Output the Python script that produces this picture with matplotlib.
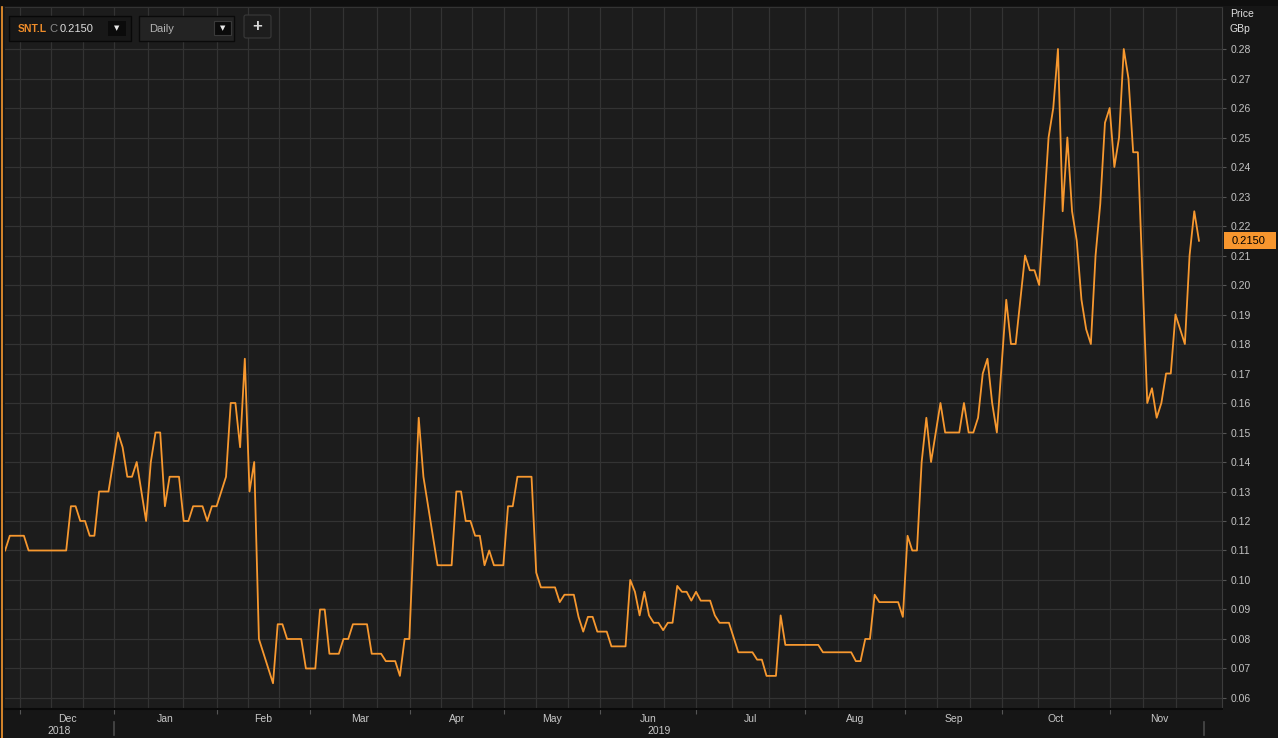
import matplotlib
matplotlib.use("Agg")
import matplotlib.pyplot as plt
from matplotlib.patches import Rectangle, FancyBboxPatch
from matplotlib.transforms import Affine2D, blended_transform_factory

plt.rcParams['font.family'] = ['Liberation Sans', 'DejaVu Sans']

# trading-day index (day 0 = late Nov 2018) and close price in GBp
days = [0, 1, 4, 5, 13, 14, 15, 16, 17, 18, 19, 20, 22, 24, 25, 26, 27, 28, 30, 31,
        32, 33, 34, 35, 37, 38, 39, 40, 42, 43, 44, 45, 47, 48, 49, 50, 51, 52, 53, 54,
        57, 58, 59, 60, 63, 64, 66, 67, 68, 69, 71, 72, 73, 74, 77, 78, 80, 81, 83, 84,
        85, 86, 88, 89, 92, 95, 96, 97, 98, 99, 100, 101, 102, 103, 104, 106, 107, 108, 109, 112,
        113, 114, 117, 118, 119, 121, 122, 123, 124, 125, 126, 128, 129, 132, 133, 134, 135, 136, 137, 138,
        139, 140, 141, 142, 143, 144, 145, 146, 147, 148, 150, 151, 152, 154, 155, 156, 159, 160, 161, 162,
        164, 165, 166, 173, 174, 180, 181, 182, 183, 184, 185, 186, 190, 191, 192, 193, 194, 195, 196, 197,
        198, 199, 200, 203, 204, 205, 206, 207, 208, 209, 210, 211, 213, 214, 215, 217, 218, 219, 220, 222,
        223, 224, 225, 226, 227, 228, 229, 230, 231, 232, 233, 234, 235, 236, 237, 238, 239, 240, 241, 243,
        244, 245, 246, 247, 248, 249, 251, 252, 253, 254]
prices = [0.11, 0.115, 0.115, 0.11, 0.11, 0.125, 0.125, 0.12, 0.12, 0.115, 0.115, 0.13, 0.13, 0.15, 0.145, 0.135, 0.135, 0.14, 0.12, 0.14,
          0.15, 0.15, 0.125, 0.135, 0.135, 0.12, 0.12, 0.125, 0.125, 0.12, 0.125, 0.125, 0.135, 0.16, 0.16, 0.145, 0.175, 0.13, 0.14, 0.08,
          0.065, 0.085, 0.085, 0.08, 0.08, 0.07, 0.07, 0.09, 0.09, 0.075, 0.075, 0.08, 0.08, 0.085, 0.085, 0.075, 0.075, 0.0725, 0.0725, 0.0675,
          0.08, 0.08, 0.155, 0.135, 0.105, 0.105, 0.13, 0.13, 0.12, 0.12, 0.115, 0.115, 0.105, 0.11, 0.105, 0.105, 0.125, 0.125, 0.135, 0.135,
          0.1025, 0.0975, 0.0975, 0.0925, 0.095, 0.095, 0.0875, 0.0825, 0.0875, 0.0875, 0.0825, 0.0825, 0.0775, 0.0775, 0.10, 0.096, 0.088, 0.096, 0.088, 0.0855,
          0.0855, 0.083, 0.0855, 0.0855, 0.098, 0.096, 0.096, 0.093, 0.096, 0.093, 0.093, 0.088, 0.0855, 0.0855, 0.0805, 0.0755, 0.0755, 0.073, 0.073, 0.0675,
          0.0675, 0.088, 0.078, 0.078, 0.0755, 0.0755, 0.0725, 0.0725, 0.08, 0.08, 0.095, 0.0925, 0.0925, 0.0875, 0.115, 0.11, 0.11, 0.14, 0.155, 0.14,
          0.15, 0.16, 0.15, 0.15, 0.16, 0.15, 0.15, 0.155, 0.17, 0.175, 0.16, 0.15, 0.195, 0.18, 0.18, 0.21, 0.205, 0.205, 0.20, 0.25,
          0.26, 0.28, 0.225, 0.25, 0.225, 0.215, 0.195, 0.185, 0.18, 0.21, 0.2275, 0.255, 0.26, 0.24, 0.25, 0.28, 0.27, 0.245, 0.245, 0.16,
          0.165, 0.155, 0.16, 0.17, 0.17, 0.19, 0.18, 0.21, 0.225, 0.215]

months = ['Dec', 'Jan', 'Feb', 'Mar', 'Apr', 'May', 'Jun', 'Jul', 'Aug', 'Sep', 'Oct', 'Nov']
month_starts = [3.2, 23.2, 45.1, 64.9, 86.1, 106.1, 126.6, 147.0, 170.2, 191.5, 212.1, 235.1, 256.1]
years = ['2018', '2019']
year_bounds = [-0.02, 23.2, 255.1]
last_price = 0.2150
ticker = 'SNT.L'

W, H = 1278, 738
LINE = '#f7982f'
fig = plt.figure(figsize=(W / 100, H / 100), dpi=100)
fig.patch.set_facecolor('#161616')
px = Affine2D().scale(1 / W, -1 / H).translate(0, 1) + fig.transFigure

ax = fig.add_axes([5 / W, (H - 709) / H, (1222 - 5) / W, (709 - 7) / H])
ax.set_facecolor('#1c1c1c')
ax.plot(days, prices, color=LINE, lw=1.3, zorder=3)

ax.set_xlim(-0.02, 258.9)
ax.set_ylim(0.05627, 0.29424)
ax.set_yticks([0.06 + 0.01 * i for i in range(23)])
ax.yaxis.set_major_formatter(lambda v, p: f"{v:.2f}")
ax.yaxis.tick_right()
ax.tick_params(axis='y', length=3, color='#555555', labelcolor='#c4c4c4', labelsize=7.5, pad=3)

# month boundaries as major ticks, thirds of months as minor gridlines
ax.set_xticks(month_starts[:-1])
ax.set_xticklabels([])
thirds = []
for a, b in zip(month_starts[:-1], month_starts[1:]):
    thirds += [a + (b - a) / 3, a + 2 * (b - a) / 3]
ax.set_xticks(thirds, minor=True)
ax.tick_params(axis='x', which='major', length=3.5, color='#555555', direction='out')
ax.tick_params(axis='x', which='minor', length=0)
ax.grid(True, which='both', color='#333333', lw=0.9)
ax.set_axisbelow(True)

ax.spines['left'].set_visible(False)
ax.spines['right'].set_color('#3c3c3c')
ax.spines['top'].set_color('#333333')
ax.spines['bottom'].set_color('#0a0a0a')
ax.spines['bottom'].set_linewidth(1.5)

bt = blended_transform_factory(ax.transData, ax.transAxes)
for i, m in enumerate(months):
    mid = (month_starts[i] + month_starts[i + 1]) / 2
    ax.text(mid, -0.0145, m, transform=bt, ha='center', va='center', color='#c8c8c8', fontsize=7.5)
for i, y in enumerate(years):
    mid = (year_bounds[i] + year_bounds[i + 1]) / 2
    ax.text(mid, -0.0315, y, transform=bt, ha='center', va='center', color='#c8c8c8', fontsize=7.5)
for xb in year_bounds[1:]:
    ax.plot([xb, xb], [-0.018, -0.037], transform=bt, color='#4a4a4a', lw=1.2, clip_on=False)

# top strip and left orange edge
fig.patches.append(Rectangle((0, 0), W, 6, transform=px, fc='#0f0f0f', ec='none'))
fig.lines.append(plt.Line2D([1.5, 1.5], [7, H], transform=px, color=LINE, lw=1.2))

# right axis header and last price tag
fig.text(1230 / W, 1 - 14 / H, 'Price', color='#e0e0e0', fontsize=7.5, va='center', ha='left')
fig.text(1230 / W, 1 - 29 / H, 'GBp', color='#e0e0e0', fontsize=7.5, va='center', ha='left')
tag_t = blended_transform_factory(px, ax.transData)
tag_h = 17 / 702 * (0.29424 - 0.05627)
fig.patches.append(Rectangle((1224, last_price - tag_h / 2), 52, tag_h, transform=tag_t,
                             fc='#f7962e', ec='none'))
fig.text(1232, last_price, f"{last_price:.4f}", transform=tag_t, color='black', fontsize=8,
         va='center', ha='left')

# header widgets
fig.patches.append(Rectangle((9, 16), 122, 25, transform=px, fc='#181818', ec='#080808', lw=1))
fig.patches.append(Rectangle((108, 21), 18, 15, transform=px, fc='#0b0b0b', ec='none'))
fig.text(18, 28.5, ticker, transform=px, color='#ee8c2a', fontsize=7.5, weight='bold', va='center')
fig.text(49, 28.5, 'C', transform=px, color='#8a8a8a', fontsize=8, va='center')
fig.text(60, 28.5, f"{last_price:.4f}", transform=px, color='#dedede', fontsize=8, va='center')
fig.text(117, 28.5, '\u25bc', transform=px, color='#e8e8e8', fontsize=5, va='center', ha='center',
         family='DejaVu Sans')

fig.patches.append(Rectangle((139, 16), 95, 25, transform=px, fc='#232323', ec='#0a0a0a', lw=1))
fig.patches.append(Rectangle((214, 21), 17, 14, transform=px, fc='#0b0b0b', ec='#3a3a3a', lw=0.8))
fig.text(149, 28.5, 'Daily', transform=px, color='#b4b4b4', fontsize=8, va='center')
fig.text(222.5, 28, '\u25bc', transform=px, color='#e8e8e8', fontsize=5, va='center', ha='center',
         family='DejaVu Sans')

fig.patches.append(FancyBboxPatch((244, 15), 27, 23, boxstyle='round,pad=0,rounding_size=2',
                                  transform=px, fc='#1d1d1d', ec='#3a3a3a', lw=0.8))
fig.text(257.5, 26.5, '+', transform=px, color='#d8d8d8', fontsize=12, weight='bold',
         va='center', ha='center')

fig.savefig('out.png', dpi=100, facecolor=fig.get_facecolor())
